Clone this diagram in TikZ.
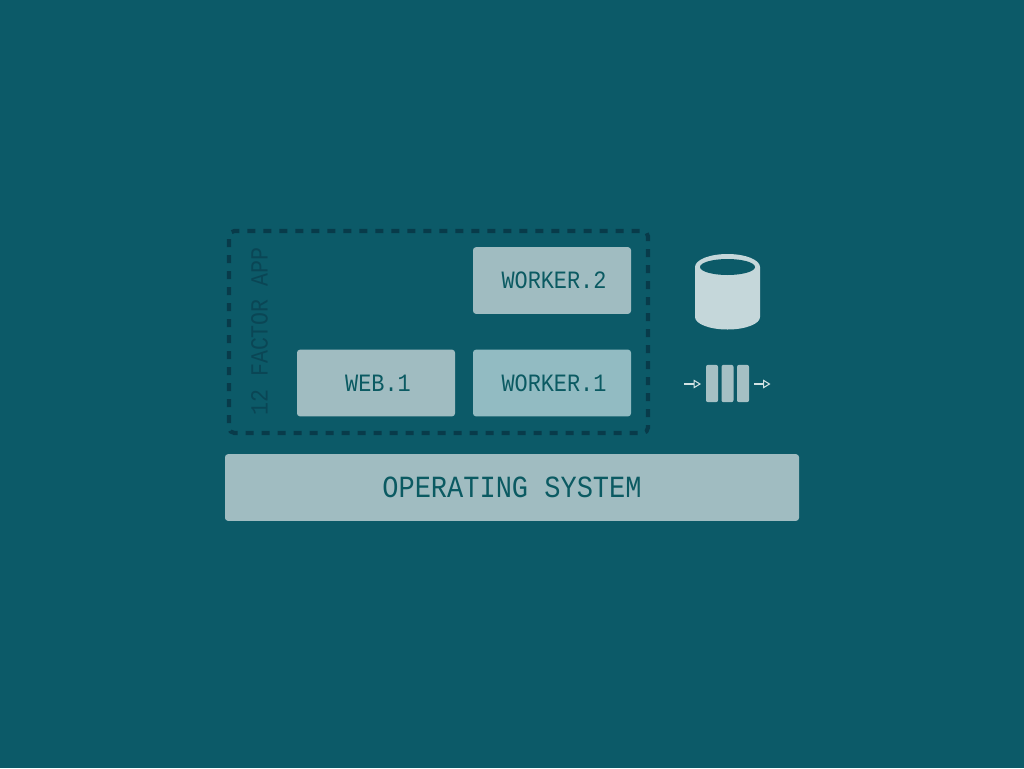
\documentclass[tikz,border=0pt]{standalone}
\usepackage{fontspec}
\setmonofont{Liberation Mono}
\usetikzlibrary{arrows.meta}
\definecolor{bgc}{HTML}{0C5A68}
\definecolor{boxc}{HTML}{A0BCC1}
\definecolor{workc}{HTML}{92BBC2}
\definecolor{txtc}{HTML}{0B5A62}
\definecolor{dashc}{HTML}{083B4A}
\definecolor{faintc}{HTML}{0A4655}
\definecolor{cylc}{HTML}{C5D7DA}
\definecolor{barc}{HTML}{A5C0C4}
\definecolor{arrc}{HTML}{D3E2E3}
\newcommand{\tall}[1]{\scalebox{1}[1.14]{#1}}
\tikzset{
  x=0.75pt,y=-0.75pt,
  appbox/.style={fill=boxc,rounded corners=2.2pt,minimum width=118.5pt,minimum height=50pt,inner sep=0pt,text=txtc,font=\ttfamily\fontsize{16.4}{18}\selectfont},
  qbar/.style={fill=barc,rounded corners=1.5pt,minimum width=9pt,minimum height=28pt,inner sep=0pt},
  qarrow/.style={draw=arrc,line width=0.9pt,-{Triangle[open,length=5.5pt,width=6.5pt,line width=0.8pt]}}
}
\begin{document}
\begin{tikzpicture}
\useasboundingbox[fill=bgc] (0,0) rectangle (1024,768);
\draw[draw=dashc,line width=3.1pt,dash pattern=on 6pt off 6pt,dash phase=-2pt,rounded corners=4pt] (229,231) rectangle (648,433);
\node[appbox,anchor=center] (w2) at (552,280.5) {\hspace{3pt}\tall{WORKER.2}};
\node[appbox,anchor=center] (web) at (376,383) {\hspace{3pt}\tall{WEB.1}};
\node[appbox,fill=workc,anchor=center] (w1) at (552,383) {\hspace{3pt}\tall{WORKER.1}};
\node[appbox,minimum width=430.5pt,anchor=center,font=\ttfamily\fontsize{20.25}{22}\selectfont] (os) at (512,487.5) {\tall{OPERATING SYSTEM}};
\node[rotate=90,text=faintc,inner sep=0pt,font=\ttfamily\fontsize{16.2}{20}\selectfont] (app) at (259.5,331.5) {\tall{12 FACTOR APP}};
% cylinder
\path[fill=cylc] (695,267) arc[x radius=32.5,y radius=13,start angle=180,end angle=360] -- (760,317) arc[x radius=32.5,y radius=12.5,start angle=0,end angle=180] -- cycle;
\path[fill=bgc] (727.5,267) ellipse[x radius=27.5,y radius=8];
% queue
\node[qbar] (b1) at (712,383.5) {};
\node[qbar] (b2) at (727.5,383.5) {};
\node[qbar] (b3) at (743,383.5) {};
\coordinate (ain) at (684,384);
\coordinate (aout) at (770.5,384);
\coordinate (b1w) at (701,384);
\coordinate (b3e) at (754,384);
\draw[qarrow] (ain) -- (b1w);
\draw[qarrow] (b3e) -- (aout);
\end{tikzpicture}
\end{document}
